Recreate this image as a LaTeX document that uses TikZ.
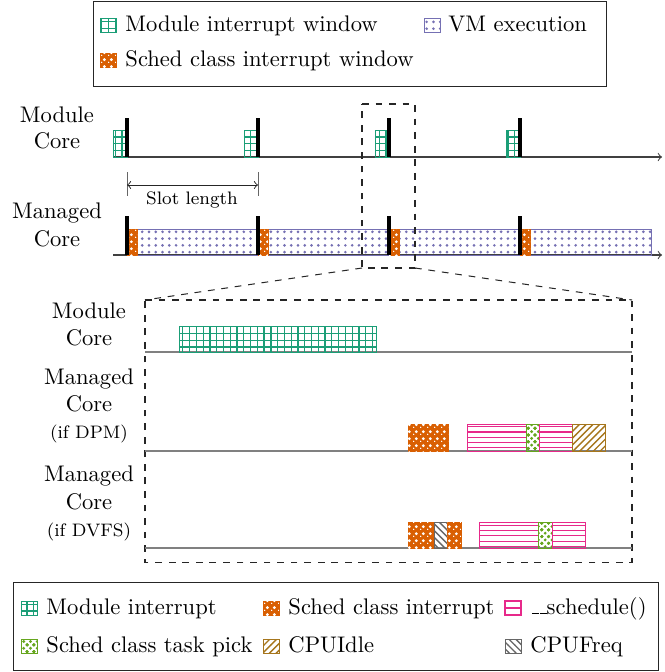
\documentclass[tikz,border=0pt]{standalone}
\usetikzlibrary{patterns}
\definecolor{dgreen}{HTML}{1B9E77}
\definecolor{dorange}{HTML}{D95F02}
\definecolor{dpurple}{HTML}{7570B3}
\definecolor{dpink}{HTML}{E7298A}
\definecolor{dlime}{HTML}{66A61E}
\definecolor{dbrown}{HTML}{A6761D}
\definecolor{dgray}{HTML}{666666}
\pgfdeclarepatternformonly{holedots}{\pgfpointorigin}{\pgfqpoint{3pt}{3pt}}{\pgfqpoint{3pt}{3pt}}{%
  \pgfpathcircle{\pgfqpoint{0pt}{0pt}}{.7pt}
  \pgfpathcircle{\pgfqpoint{1.5pt}{1.5pt}}{.7pt}
  \pgfusepath{fill}}
\pgfdeclarepatternformonly{txdots}{\pgfqpoint{-1pt}{-1pt}}{\pgfqpoint{4pt}{4pt}}{\pgfqpoint{3pt}{3pt}}{%
  \pgfpathcircle{\pgfqpoint{0pt}{0pt}}{.7pt}
  \pgfpathcircle{\pgfqpoint{1.5pt}{1.5pt}}{.7pt}
  \pgfpathcircle{\pgfqpoint{3pt}{0pt}}{.7pt}
  \pgfpathcircle{\pgfqpoint{0pt}{3pt}}{.7pt}
  \pgfpathcircle{\pgfqpoint{3pt}{3pt}}{.7pt}
  \pgfusepath{fill}}
\pgfdeclarepatternformonly{tdots}{\pgfqpoint{-1pt}{-1pt}}{\pgfqpoint{1pt}{1pt}}{\pgfqpoint{3pt}{3pt}}{%
  \pgfpathcircle{\pgfqpoint{0pt}{0pt}}{.65pt}
  \pgfusepath{fill}}
\pgfdeclarepatternformonly{tgrid}{\pgfqpoint{-1pt}{-1pt}}{\pgfqpoint{4pt}{4pt}}{\pgfqpoint{3pt}{3pt}}{%
  \pgfsetlinewidth{0.55pt}
  \pgfpathmoveto{\pgfqpoint{0pt}{0pt}}\pgfpathlineto{\pgfqpoint{0pt}{3.1pt}}
  \pgfpathmoveto{\pgfqpoint{0pt}{0pt}}\pgfpathlineto{\pgfqpoint{3.1pt}{0pt}}
  \pgfusepath{stroke}}
\pgfdeclarepatternformonly{thlines}{\pgfpointorigin}{\pgfqpoint{100pt}{1pt}}{\pgfqpoint{100pt}{2.3pt}}{%
  \pgfsetlinewidth{0.5pt}
  \pgfpathmoveto{\pgfqpoint{0pt}{0.5pt}}\pgfpathlineto{\pgfqpoint{100pt}{0.5pt}}
  \pgfusepath{stroke}}
\pgfdeclarepatternformonly{tnelines}{\pgfqpoint{-1pt}{-1pt}}{\pgfqpoint{4pt}{4pt}}{\pgfqpoint{3pt}{3pt}}{%
  \pgfsetlinewidth{0.6pt}
  \pgfpathmoveto{\pgfqpoint{0pt}{0pt}}\pgfpathlineto{\pgfqpoint{3.1pt}{3.1pt}}
  \pgfusepath{stroke}}
\pgfdeclarepatternformonly{tnwlines}{\pgfqpoint{-1pt}{-1pt}}{\pgfqpoint{4pt}{4pt}}{\pgfqpoint{3pt}{3pt}}{%
  \pgfsetlinewidth{0.6pt}
  \pgfpathmoveto{\pgfqpoint{0pt}{3pt}}\pgfpathlineto{\pgfqpoint{3.1pt}{-0.1pt}}
  \pgfusepath{stroke}}
\newcommand{\myus}{\leavevmode\kern.06em\vbox{\hrule width .3em}}
\tikzset{
  modint/.style={draw=dgreen, pattern=tgrid, pattern color=dgreen},
  schedint/.style={draw=dorange, fill=dorange, postaction={pattern=holedots, pattern color=white}},
  vmexec/.style={draw=dpurple, pattern=tdots, pattern color=dpurple},
  schedfn/.style={draw=dpink, pattern=thlines, pattern color=dpink},
  taskpick/.style={draw=dlime, pattern=txdots, pattern color=dlime},
  cpuidle/.style={draw=dbrown, pattern=tnelines, pattern color=dbrown},
  cpufreq/.style={draw=dgray, pattern=tnwlines, pattern color=dgray},
  topaxis/.style={draw=black!75, line width=0.45pt},
  zoomaxis/.style={draw=black!50, line width=0.5pt},
  marker/.style={draw=black, line width=1.4pt},
  lbl/.style={inner sep=0pt, anchor=base},
  smalllbl/.style={inner sep=0pt, anchor=base, font=\footnotesize},
  legtext/.style={inner sep=0pt, anchor=base west},
  zoombox/.style={draw=black!85, dashed, line width=0.45pt},
}
\begin{document}
\begin{tikzpicture}[x=0.443pt, y=-0.443pt]
\useasboundingbox (0,0) rectangle (664,672);

% ---------- top legend ----------
\draw[black!85] (93,1) rectangle (606,86);
\path[modint] (100,18) rectangle (116,32);
\node[legtext] (lt1) at (125,31) {Module interrupt window};
\path[vmexec] (424,18) rectangle (440,32);
\node[legtext] (lt2) at (448,31) {VM execution};
\path[schedint] (100,53) rectangle (116,67);
\node[legtext] (lt3) at (125,66) {Sched class interrupt window};

% ---------- top timelines ----------
\node[lbl] (m1) at (57,122) {Module};
\node[lbl] (m2) at (57,148) {Core};
\node[lbl] (g1) at (57,218) {Managed};
\node[lbl] (g2) at (57,246) {Core};

% module core
\coordinate (ma0) at (113,157);
\coordinate (ma1) at (662,157);
\draw[topaxis, ->] (ma0) -- (ma1);
\foreach \x in {127,258,389,520} {
  \path[modint] (\x-14,130) rectangle (\x,157);
}
\foreach \x in {127,258,389,520} {
  \draw[marker] (\x,118) -- (\x,157);
}

% slot length
\draw[black!60] (127,172) -- (127,196);
\draw[black!60] (258,172) -- (258,196);
\coordinate (sl0) at (127,185);
\coordinate (sl1) at (258,185);
\draw[black!85, <->] (sl0) -- (sl1);
\node[smalllbl] (slot) at (192,204) {Slot length};

% managed core
\coordinate (ga0) at (113,255);
\coordinate (ga1) at (662,255);
\draw[topaxis, ->] (ga0) -- (ga1);
\path[vmexec] (127,229) rectangle (651,255);
\foreach \x in {127,258,389,520} {
  \path[schedint] (\x,229) rectangle (\x+10,255);
}
\foreach \x in {127,258,389,520} {
  \draw[marker] (\x,216) -- (\x,255);
}

% ---------- zoom frame ----------
\coordinate (s1) at (362,104);
\coordinate (s2) at (415,104);
\coordinate (s3) at (415,268);
\coordinate (s4) at (362,268);
\draw[zoombox] (s1) -- (s2) -- (s3) -- (s4) -- cycle;
\coordinate (b1) at (145,300);
\coordinate (b2) at (632,300);
\coordinate (b3) at (632,562);
\coordinate (b4) at (145,562);
\draw[zoombox] (b1) -- (b2) -- (b3) -- (b4) -- cycle;
\draw[zoombox] (s4) -- (b1);
\draw[zoombox] (s3) -- (b2);

% ---------- zoomed timelines ----------
\node[lbl] (z1) at (89,318) {Module};
\node[lbl] (z2) at (89,345) {Core};
\draw[zoomaxis] (145,352) -- (632,352);
\path[modint] (179,326) rectangle (376,352);

\node[lbl] (d1) at (89,384) {Managed};
\node[lbl] (d2) at (89,411) {Core};
\node[smalllbl] (d3) at (89,438) {(if DPM)};
\draw[zoomaxis] (145,451) -- (632,451);
\path[schedint] (408,424) rectangle (448,451);
\path[schedfn] (467,424) rectangle (526,451);
\path[taskpick] (526,424) rectangle (539,451);
\path[schedfn] (539,424) rectangle (572,451);
\path[cpuidle] (572,424) rectangle (605,451);

\node[lbl] (f1) at (89,481) {Managed};
\node[lbl] (f2) at (89,509) {Core};
\node[smalllbl] (f3) at (89,536) {(if DVFS)};
\draw[zoomaxis] (145,548) -- (632,548);
\path[schedint] (408,522) rectangle (434,548);
\path[cpufreq] (434,522) rectangle (447,548);
\path[schedint] (447,522) rectangle (461,548);
\path[schedfn] (479,522) rectangle (538,548);
\path[taskpick] (538,522) rectangle (552,548);
\path[schedfn] (552,522) rectangle (585,548);

% ---------- bottom legend ----------
\draw[black!85] (13,582) rectangle (658,670);
\path[modint] (21,601) rectangle (37,615);
\node[legtext] (bl1) at (46,614) {Module interrupt};
\path[schedint] (263,601) rectangle (279,615);
\node[legtext] (bl2) at (288,614) {Sched class interrupt};
\draw[dpink, line width=0.6pt] (505,601) rectangle (521,615);
\draw[dpink, line width=0.6pt] (505,608) -- (521,608);
\node[legtext] (bl3) at (530,614) {\myus\myus schedule()};
\path[taskpick] (21,639) rectangle (37,653);
\node[legtext] (bl4) at (46,652) {Sched class task pick};
\path[cpuidle] (263,639) rectangle (279,653);
\node[legtext] (bl5) at (288,652) {CPUIdle};
\path[cpufreq] (505,639) rectangle (521,653);
\node[legtext] (bl6) at (530,652) {CPUFreq};
\end{tikzpicture}
\end{document}
